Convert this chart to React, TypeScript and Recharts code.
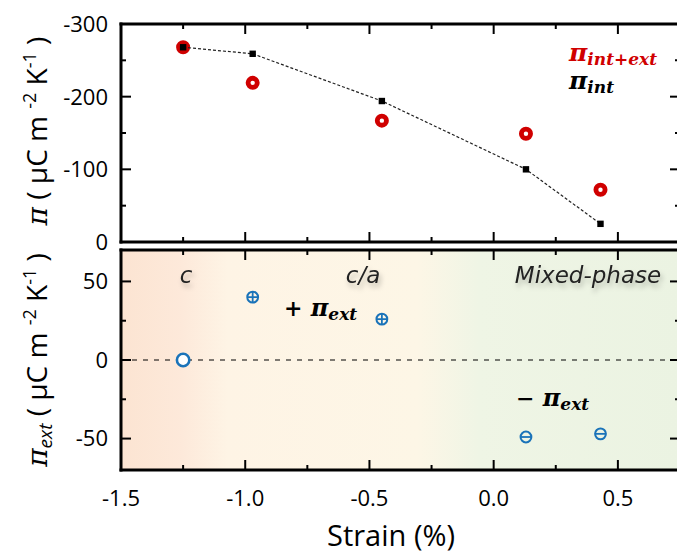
import React from 'react'
import { ScatterChart, Scatter, XAxis, YAxis, ReferenceLine, ReferenceArea } from 'recharts'

// strain positions of the five films (%)
const strain = [-1.25, -0.97, -0.45, 0.13, 0.43]
// pyroelectric coefficients (µC m-2 K-1)
const piIntExt = [-268, -219, -167, -149, -72]
const piInt = [-268, -259, -194, -100, -25]
const piExt = [0, 40, 26, -49, -47]
const extSign = ['zero', 'plus', 'plus', 'minus', 'minus']

const xTicks = [-1.5, -1.25, -1, -0.75, -0.5, -0.25, 0, 0.25, 0.5, 0.75]
const xTickLabels: Record<string, string> = { '-1.5': '-1.5', '-1': '-1.0', '-0.5': '-0.5', '0': '0.0', '0.5': '0.5' }
const topYTicks = [-300, -250, -200, -150, -100, -50, 0]
const topYLabels: Record<string, string> = { '-300': '-300', '-200': '-200', '-100': '-100', '0': '0' }
const bottomYTicks = [-50, -25, 0, 25, 50]
const bottomYLabels: Record<string, string> = { '50': '50', '0': '0', '-50': '-50' }

const RED = '#d00000'
const BLUE = '#1a73b9'
const SANS = '"Open Sans", "Noto Sans", sans-serif'
const SERIF = '"DejaVu Serif", serif'

const topRed = strain.map((x, i) => ({ x, y: piIntExt[i] }))
const topBlack = strain.map((x, i) => ({ x, y: piInt[i] }))
const bottomBlue = strain.map((x, i) => ({ x, y: piExt[i], sign: extSign[i] }))

const axisLine = { stroke: '#000', strokeWidth: 3, strokeLinecap: 'square' as const }

// inward tick marks, labels only on major ticks
function AxisTick(props: any) {
  const { x, y, payload, side, labels, showLabel } = props
  const key = String(payload.value)
  const major = key in labels
  const len = major ? 10 : 5
  let x2 = x
  let y2 = y
  if (side === 'bottom') y2 = y - len
  if (side === 'top') y2 = y + len
  if (side === 'left') x2 = x + len
  if (side === 'right') x2 = x - len
  return (
    <g>
      <line x1={x} y1={y} x2={x2} y2={y2} stroke="#000" strokeWidth={2} />
      {showLabel && major && side === 'bottom' && (
        <text x={x} y={y + 36} textAnchor="middle" fontFamily={SANS} fontSize={22} fill="#000">
          {labels[key]}
        </text>
      )}
      {showLabel && major && side === 'left' && (
        <text x={x - 13} y={y} dy="0.36em" textAnchor="end" fontFamily={SANS} fontSize={22} fill="#000">
          {labels[key]}
        </text>
      )}
    </g>
  )
}

function RingDot(props: any) {
  const { cx, cy } = props
  return <circle cx={cx} cy={cy} r={4.6} fill="#fff" stroke={RED} strokeWidth={4.8} />
}

function SquareDot(props: any) {
  const { cx, cy } = props
  return <rect x={cx - 3.2} y={cy - 3.2} width={6.4} height={6.4} fill="#000" />
}

function ExtDot(props: any) {
  const { cx, cy, payload } = props
  if (payload.sign === 'zero') {
    return <circle cx={cx} cy={cy} r={6.2} fill="#fff" stroke={BLUE} strokeWidth={2.6} />
  }
  const r = 5.4
  return (
    <g>
      <circle cx={cx} cy={cy} r={r} fill="none" stroke={BLUE} strokeWidth={2} />
      <line x1={cx - r} x2={cx + r} y1={cy} y2={cy} stroke={BLUE} strokeWidth={1.8} />
      {payload.sign === 'plus' && <line x1={cx} x2={cx} y1={cy - r} y2={cy + r} stroke={BLUE} strokeWidth={1.8} />}
    </g>
  )
}

// four framing axes with inward ticks; axes need a non-zero size to be drawn
function Frame({ yTicks, yLabels, domain, reversed, labelX }: any) {
  return [
    <XAxis key="xb" xAxisId="b" type="number" dataKey="x" domain={[-1.5, 0.75]} ticks={xTicks} interval={0}
      orientation="bottom" height={1} tickSize={0} tickMargin={0} tickLine={false} axisLine={axisLine}
      allowDataOverflow tick={<AxisTick side="bottom" labels={xTickLabels} showLabel={labelX} />} />,
    <XAxis key="xt" xAxisId="t" type="number" dataKey="x" domain={[-1.5, 0.75]} ticks={xTicks} interval={0}
      orientation="top" height={1} tickSize={0} tickMargin={0} tickLine={false} axisLine={axisLine}
      allowDataOverflow tick={<AxisTick side="top" labels={xTickLabels} />} />,
    <YAxis key="yl" yAxisId="l" type="number" dataKey="y" domain={domain} ticks={yTicks} interval={0} reversed={reversed}
      orientation="left" width={60} tickSize={0} tickMargin={0} tickLine={false} axisLine={axisLine}
      allowDataOverflow tick={<AxisTick side="left" labels={yLabels} showLabel />} />,
    <YAxis key="yr" yAxisId="r" type="number" dataKey="y" domain={domain} ticks={yTicks} interval={0} reversed={reversed}
      orientation="right" width={1} tickSize={0} tickMargin={0} tickLine={false} axisLine={axisLine}
      allowDataOverflow tick={<AxisTick side="right" labels={yLabels} />} />,
  ]
}

export default function App() {
  return (
    <div style={{ position: 'absolute', left: 0, top: 0, width: 677, height: 555, overflow: 'hidden', background: '#fff' }}>
      {/* upper panel: total and intrinsic coefficient */}
      <div style={{ position: 'absolute', left: 0, top: 0 }}>
        <ScatterChart width={683} height={262} margin={{ top: 23, right: 2, bottom: 19, left: 61 }}>
          {Frame({ yTicks: topYTicks, yLabels: topYLabels, domain: [-300, 0], reversed: true, labelX: false })}
          <Scatter data={topRed} xAxisId="b" yAxisId="l" shape={(p: any) => <RingDot {...p} />} isAnimationActive={false} />
          <Scatter data={topBlack} xAxisId="b" yAxisId="l" fill="#111" shape={(p: any) => <SquareDot {...p} />}
            line={{ stroke: '#222', strokeWidth: 1.2, strokeDasharray: '3 2' }} lineType="joint" isAnimationActive={false} />
        </ScatterChart>
      </div>

      {/* lower panel: extrinsic contribution */}
      <div style={{ position: 'absolute', left: 0, top: 242 }}>
        <ScatterChart width={683} height={313} margin={{ top: 7, right: 2, bottom: 84, left: 61 }}>
          <defs>
            <linearGradient id="phaseGrad" x1="0" y1="0" x2="1" y2="0">
              <stop offset="0%" stopColor="#fce4d2" />
              <stop offset="11%" stopColor="#fde9da" />
              <stop offset="19%" stopColor="#fef4e5" />
              <stop offset="53%" stopColor="#fdf6e6" />
              <stop offset="64%" stopColor="#eff5e5" />
              <stop offset="100%" stopColor="#ebf3e2" />
            </linearGradient>
          </defs>
          <ReferenceArea xAxisId="b" yAxisId="l" x1={-1.5} x2={0.75} y1={-70} y2={70} fill="url(#phaseGrad)" fillOpacity={1} stroke="none" />
          {Frame({ yTicks: bottomYTicks, yLabels: bottomYLabels, domain: [-70, 70], reversed: false, labelX: true })}
          <ReferenceLine xAxisId="b" yAxisId="l" y={0} stroke="#000" strokeWidth={1.2} strokeDasharray="5 6" />
          <Scatter data={bottomBlue} xAxisId="b" yAxisId="l" shape={(p: any) => <ExtDot {...p} />} isAnimationActive={false} />
        </ScatterChart>
      </div>

      {/* titles, legend and annotations */}
      <svg width={677} height={555} style={{ position: 'absolute', left: 0, top: 0, pointerEvents: 'none' }}>
        <defs>
          <filter id="soft" x="-30%" y="-60%" width="160%" height="220%">
            <feDropShadow dx="2" dy="4" stdDeviation="2.5" floodColor="#000" floodOpacity="0.25" />
          </filter>
        </defs>

        <text transform="translate(47,131) rotate(-90)" textAnchor="middle" fontFamily={SANS} fontSize={28} fill="#000">
          <tspan fontFamily={SERIF} fontStyle="italic">π</tspan>
          <tspan>{' ( µC m '}</tspan>
          <tspan fontSize={18} dy={-11}>-2</tspan>
          <tspan dy={11}>{' K'}</tspan>
          <tspan fontSize={18} dy={-11}>-1</tspan>
          <tspan dy={11}>{' )'}</tspan>
        </text>
        <text transform="translate(47,360) rotate(-90)" textAnchor="middle" fontFamily={SANS} fontSize={28} fill="#000">
          <tspan fontFamily={SERIF} fontStyle="italic">π</tspan>
          <tspan fontSize={19} dy={5} fontStyle="italic">ext</tspan>
          <tspan dy={-5}>{' ( µC m '}</tspan>
          <tspan fontSize={18} dy={-11}>-2</tspan>
          <tspan dy={11}>{' K'}</tspan>
          <tspan fontSize={18} dy={-11}>-1</tspan>
          <tspan dy={11}>{' )'}</tspan>
        </text>

        <text x={391} y={546} textAnchor="middle" fontFamily={SANS} fontSize={29} fill="#000">Strain (%)</text>

        <text x={569} y={61} fontFamily={SERIF} fontWeight="bold" fontStyle="italic" fontSize={25} fill={RED}>
          π<tspan fontSize={17} dy={4}>int+ext</tspan>
        </text>
        <text x={569} y={89} fontFamily={SERIF} fontWeight="bold" fontStyle="italic" fontSize={25} fill="#000">
          π<tspan fontSize={17} dy={4}>int</tspan>
        </text>

        <g fontFamily='"DejaVu Sans", sans-serif' fontStyle="italic" fontSize={23} fill="#222" filter="url(#soft)" textAnchor="middle">
          <text x={186} y={283}>c</text>
          <text x={363} y={283}>c/a</text>
          <text x={588} y={283}>Mixed-phase</text>
        </g>

        <text x={284} y={316} fontFamily={SERIF} fontWeight="bold" fontSize={22} fill="#000">
          +<tspan fontStyle="italic" fontSize={24}> π</tspan><tspan fontStyle="italic" fontSize={17} dy={4}>ext</tspan>
        </text>
        <text x={516} y={406} fontFamily={SERIF} fontWeight="bold" fontSize={22} fill="#000">
          −<tspan fontStyle="italic" fontSize={24}> π</tspan><tspan fontStyle="italic" fontSize={17} dy={4}>ext</tspan>
        </text>
      </svg>
    </div>
  )
}
